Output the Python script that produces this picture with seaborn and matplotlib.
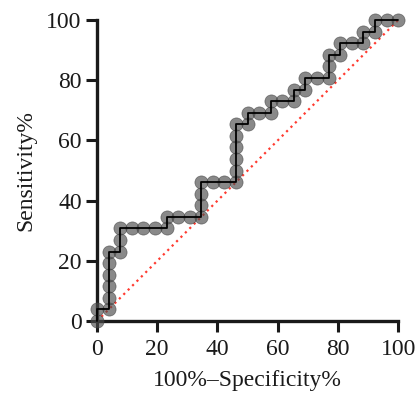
import matplotlib
matplotlib.use("Agg")
import matplotlib.pyplot as plt
import seaborn as sns
import pandas as pd

# ROC curve points (100% - Specificity%, Sensitivity%)
fpr = [0, 0, 3.85, 3.85, 3.85, 3.85, 3.85, 3.85, 7.69, 7.69, 7.69,
       11.54, 15.38, 19.23, 23.08, 23.08, 26.92, 30.77, 34.62, 34.62,
       34.62, 34.62, 38.46, 42.31, 46.15, 46.15, 46.15, 46.15, 46.15,
       46.15, 50, 50, 53.85, 57.69, 57.69, 61.54, 65.38, 65.38, 69.23,
       69.23, 73.08, 76.92, 76.92, 76.92, 80.77, 80.77, 84.62, 88.46,
       88.46, 92.31, 92.31, 96.15, 100]
tpr = [0, 3.85, 3.85, 7.69, 11.54, 15.38, 19.23, 23.08, 23.08, 26.92, 30.77,
       30.77, 30.77, 30.77, 30.77, 34.62, 34.62, 34.62, 34.62, 38.46,
       42.31, 46.15, 46.15, 46.15, 46.15, 50, 53.85, 57.69, 61.54,
       65.38, 65.38, 69.23, 69.23, 69.23, 73.08, 73.08, 73.08, 76.92, 76.92,
       80.77, 80.77, 80.77, 84.62, 88.46, 88.46, 92.31, 92.31, 92.31,
       96.15, 96.15, 100, 100, 100]
ref_x = [0, 100]
ref_y = [0, 100]
ticks = [0, 20, 40, 60, 80, 100]

df = pd.DataFrame({"fpr": fpr, "tpr": tpr})

sns.set_style("ticks")
plt.rcParams["font.family"] = ["Liberation Serif", "DejaVu Serif"]

fig = plt.figure(figsize=(4.2, 3.93), dpi=100)
ax = fig.add_axes([0.231, 0.183, 0.717, 0.766])

# diagonal reference line
sns.lineplot(x=ref_x, y=ref_y, ax=ax, color="#ff3b30", linestyle=(0, (1, 1.8)),
             linewidth=1.6, zorder=2, clip_on=False)

# markers
sns.scatterplot(data=df, x="fpr", y="tpr", ax=ax, s=90, color="#4a4a4a",
                alpha=0.65, edgecolor="#3a3a3a", linewidth=0.5, zorder=3,
                clip_on=False, legend=False)

# step line
sns.lineplot(data=df, x="fpr", y="tpr", ax=ax, sort=False, estimator=None,
             color="black", linewidth=1.3, zorder=4, clip_on=False)

ax.set_xlim(0, 100)
ax.set_ylim(0, 100)
ax.set_xticks(ticks)
ax.set_yticks(ticks)
ax.set_xticklabels([str(t) for t in ticks])
ax.set_yticklabels([str(t) for t in ticks])
ax.tick_params(axis="both", labelsize=17, length=8, width=2.2, color="#1a1a1a",
               labelcolor="#1a1a1a", pad=3)
ax.tick_params(axis="x", pad=5)

for s in ["top", "right"]:
    ax.spines[s].set_visible(False)
for s in ["left", "bottom"]:
    ax.spines[s].set_linewidth(2.4)
    ax.spines[s].set_color("#1a1a1a")

ax.set_xlabel("100%\u2013Specificity%", fontsize=17, color="#1a1a1a", labelpad=7)
ax.set_ylabel("Sensitivity%", fontsize=17, color="#1a1a1a", labelpad=7)

fig.savefig("out.png", dpi=100)
